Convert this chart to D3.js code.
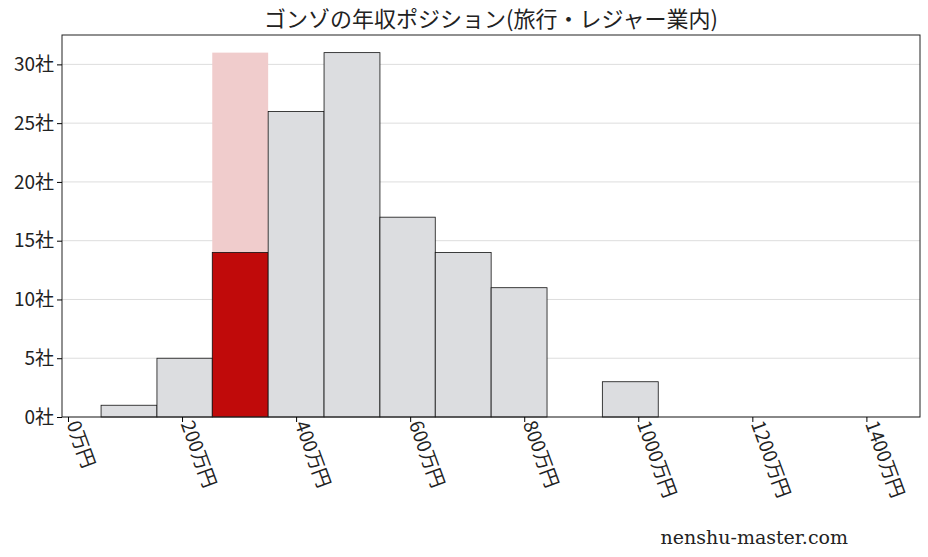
<!DOCTYPE html>
<html><head><meta charset="utf-8">
<script src="https://cdn.jsdelivr.net/npm/d3@7"></script>
<style>body{margin:0;background:#fff}</style>
</head><body>
<svg width="928" height="557"></svg>
<script>
const binEdges = [58, 156, 253, 351, 449, 547, 644, 742, 840, 937, 1035];
const counts = [1, 5, 14, 26, 31, 17, 14, 11, 0, 3];
const highlightBin = 2;
const xTicks = [0, 200, 400, 600, 800, 1000, 1200, 1400];
const yTicks = [0, 5, 10, 15, 20, 25, 30];

const svg = d3.select("svg");
const m = {l: 62, r: 920, t: 35, b: 417};
const x = d3.scaleLinear().domain([-10.5, 1494]).range([m.l, m.r]);
const y = d3.scaleLinear().domain([0, 32.5]).range([m.b, m.t]);
const jp = "'Noto Sans CJK JP', sans-serif";

svg.append("g").selectAll("line").data(yTicks).enter().append("line")
  .attr("x1", m.l).attr("x2", m.r).attr("y1", d => y(d)).attr("y2", d => y(d))
  .attr("stroke", "#ddd").attr("stroke-width", 1);

const bins = counts.map((c, i) => ({x0: binEdges[i], x1: binEdges[i + 1], c, i}));

svg.append("rect")
  .attr("x", x(bins[highlightBin].x0)).attr("width", x(bins[highlightBin].x1) - x(bins[highlightBin].x0))
  .attr("y", y(d3.max(counts))).attr("height", y(0) - y(d3.max(counts)))
  .attr("fill", "#f0cccc");

svg.append("g").selectAll("rect").data(bins.filter(d => d.c > 0)).enter().append("rect")
  .attr("x", d => x(d.x0)).attr("width", d => x(d.x1) - x(d.x0))
  .attr("y", d => y(d.c)).attr("height", d => y(0) - y(d.c))
  .attr("fill", d => d.i === highlightBin ? "#c00a0a" : "#dcdde0")
  .attr("stroke", "#111").attr("stroke-width", 0.8);

svg.append("rect").attr("x", m.l).attr("y", m.t).attr("width", m.r - m.l).attr("height", m.b - m.t)
  .attr("fill", "none").attr("stroke", "#222");

const xa = svg.append("g").attr("transform", `translate(0,${m.b})`)
  .call(d3.axisBottom(x).tickValues(xTicks).tickSize(5).tickFormat(d => d + "万円"));
xa.select(".domain").remove();
xa.selectAll("text").attr("font-family", jp).attr("font-size", 19).attr("fill", "#222")
  .attr("text-anchor", "start").attr("transform", "rotate(70)").attr("dx", "0.3em").attr("dy", "-0.2em");

const ya = svg.append("g").attr("transform", `translate(${m.l},0)`)
  .call(d3.axisLeft(y).tickValues(yTicks).tickSize(5).tickFormat(d => d + "社"));
ya.select(".domain").remove();
ya.selectAll("text").attr("font-family", jp).attr("font-size", 19).attr("fill", "#222");

svg.append("text").attr("x", 491).attr("y", 27).attr("text-anchor", "middle")
  .attr("font-family", jp).attr("font-size", 22).attr("fill", "#222")
  .text("ゴンゾの年収ポジション(旅行・レジャー業内)");

svg.append("text").attr("x", 848).attr("y", 544).attr("text-anchor", "end")
  .attr("font-family", "'DejaVu Serif', serif").attr("font-size", 19).attr("fill", "#222")
  .text("nenshu-master.com");
</script>
</body></html>
